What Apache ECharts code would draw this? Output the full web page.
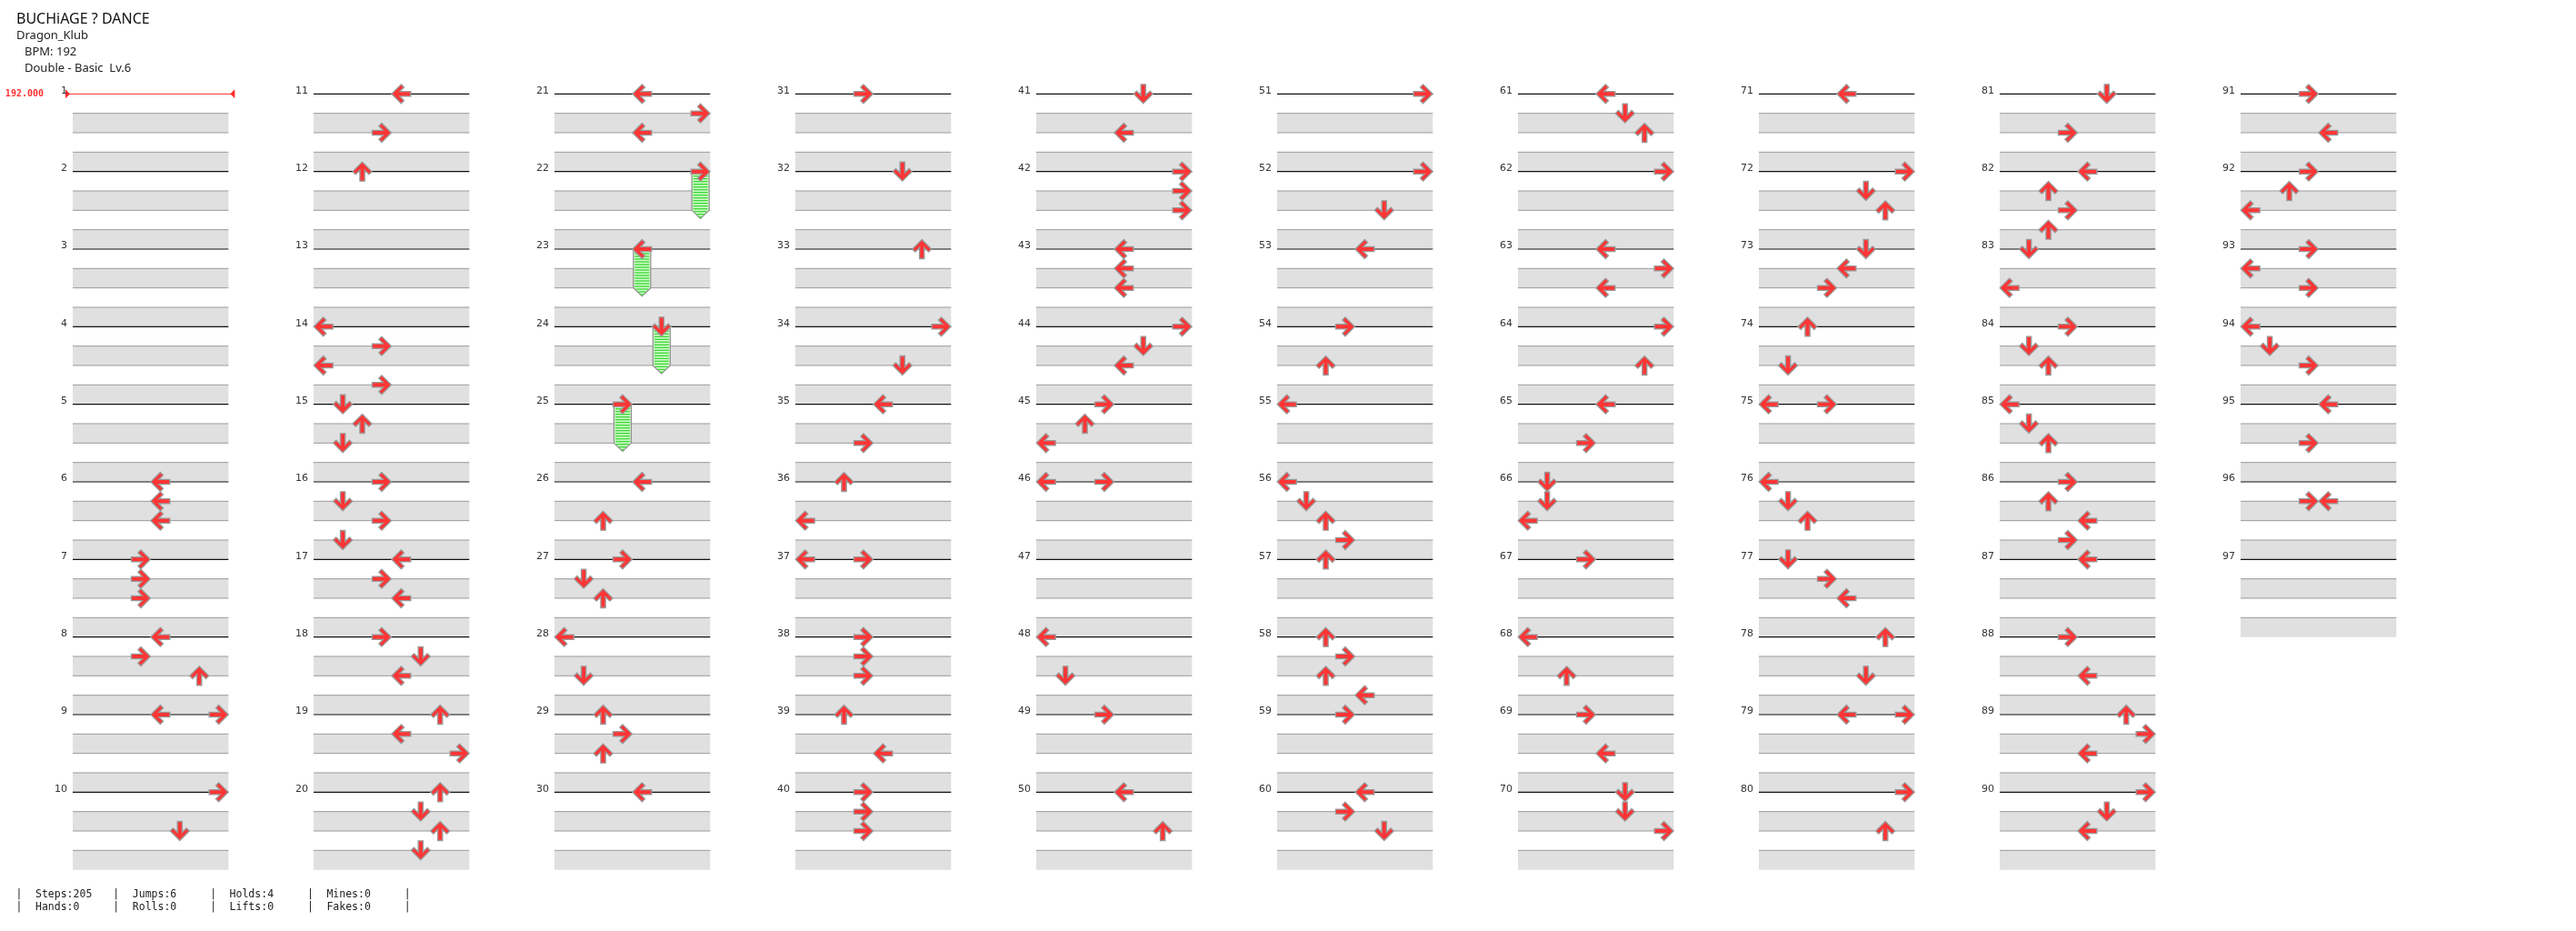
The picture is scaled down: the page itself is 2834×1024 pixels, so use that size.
<!DOCTYPE html>
<html>
<head>
<meta charset="utf-8">
<script src="https://cdn.jsdelivr.net/npm/echarts@6/dist/echarts.min.js"></script>
<style>
  html, body { margin: 0; padding: 0; background: #fff; }
  #chart { width: 2834px; height: 1024px; }
</style>
</head>
<body>
<div id="chart"></div>
<script>
// song header
const songInfo = ['BUCHiAGE ? DANCE', 'Dragon_Klub', 'BPM: 192', 'Double - Basic  Lv.6'];
const measureTotal = 97;
const measuresPerColumn = 10;
const bpmChanges = [[1, '192.000']];

// lanes of a double pad: P1 L D U R, P2 L D U R
const laneDirs = ['L', 'D', 'U', 'R', 'L', 'D', 'U', 'R'];

// taps: [measure, beat, lane]
const taps = [
    [6, 0, 4], [6, 1, 4], [6, 2, 4],
    [7, 0, 3], [7, 1, 3], [7, 2, 3],
    [8, 0, 4], [8, 1, 3], [8, 2, 6],
    [9, 0, 4], [9, 0, 7],
    [10, 0, 7], [10, 2, 5],
    [11, 0, 4], [11, 2, 3],
    [12, 0, 2],
    [14, 0, 0], [14, 1, 3], [14, 2, 0], [14, 3, 3],
    [15, 0, 1], [15, 1, 2], [15, 2, 1],
    [16, 0, 3], [16, 1, 1], [16, 2, 3], [16, 3, 1],
    [17, 0, 4], [17, 1, 3], [17, 2, 4],
    [18, 0, 3], [18, 1, 5], [18, 2, 4],
    [19, 0, 6], [19, 1, 4], [19, 2, 7],
    [20, 0, 6], [20, 1, 5], [20, 2, 6], [20, 3, 5],
    [21, 0, 4], [21, 1, 7], [21, 2, 4],
    [26, 0, 4], [26, 2, 2],
    [27, 0, 3], [27, 1, 1], [27, 2, 2],
    [28, 0, 0], [28, 2, 1],
    [29, 0, 2], [29, 1, 3], [29, 2, 2],
    [30, 0, 4],
    [31, 0, 3],
    [32, 0, 5],
    [33, 0, 6],
    [34, 0, 7], [34, 2, 5],
    [35, 0, 4], [35, 2, 3],
    [36, 0, 2], [36, 2, 0],
    [37, 0, 0], [37, 0, 3],
    [38, 0, 3], [38, 1, 3], [38, 2, 3],
    [39, 0, 2], [39, 2, 4],
    [40, 0, 3], [40, 1, 3], [40, 2, 3],
    [41, 0, 5], [41, 2, 4],
    [42, 0, 7], [42, 1, 7], [42, 2, 7],
    [43, 0, 4], [43, 1, 4], [43, 2, 4],
    [44, 0, 7], [44, 1, 5], [44, 2, 4],
    [45, 0, 3], [45, 1, 2], [45, 2, 0],
    [46, 0, 0], [46, 0, 3],
    [48, 0, 0], [48, 2, 1],
    [49, 0, 3],
    [50, 0, 4], [50, 2, 6],
    [51, 0, 7],
    [52, 0, 7], [52, 2, 5],
    [53, 0, 4],
    [54, 0, 3], [54, 2, 2],
    [55, 0, 0],
    [56, 0, 0], [56, 1, 1], [56, 2, 2], [56, 3, 3],
    [57, 0, 2],
    [58, 0, 2], [58, 1, 3], [58, 2, 2], [58, 3, 4],
    [59, 0, 3],
    [60, 0, 4], [60, 1, 3], [60, 2, 5],
    [61, 0, 4], [61, 1, 5], [61, 2, 6],
    [62, 0, 7],
    [63, 0, 4], [63, 1, 7], [63, 2, 4],
    [64, 0, 7], [64, 2, 6],
    [65, 0, 4], [65, 2, 3],
    [66, 0, 1], [66, 1, 1], [66, 2, 0],
    [67, 0, 3],
    [68, 0, 0], [68, 2, 2],
    [69, 0, 3], [69, 2, 4],
    [70, 0, 5], [70, 1, 5], [70, 2, 7],
    [71, 0, 4],
    [72, 0, 7], [72, 1, 5], [72, 2, 6],
    [73, 0, 5], [73, 1, 4], [73, 2, 3],
    [74, 0, 2], [74, 2, 1],
    [75, 0, 0], [75, 0, 3],
    [76, 0, 0], [76, 1, 1], [76, 2, 2],
    [77, 0, 1], [77, 1, 3], [77, 2, 4],
    [78, 0, 6], [78, 2, 5],
    [79, 0, 4], [79, 0, 7],
    [80, 0, 7], [80, 2, 6],
    [81, 0, 5], [81, 2, 3],
    [82, 0, 4], [82, 1, 2], [82, 2, 3], [82, 3, 2],
    [83, 0, 1], [83, 2, 0],
    [84, 0, 3], [84, 1, 1], [84, 2, 2],
    [85, 0, 0], [85, 1, 1], [85, 2, 2],
    [86, 0, 3], [86, 1, 2], [86, 2, 4], [86, 3, 3],
    [87, 0, 4],
    [88, 0, 3], [88, 2, 4],
    [89, 0, 6], [89, 1, 7], [89, 2, 4],
    [90, 0, 7], [90, 1, 5], [90, 2, 4],
    [91, 0, 3], [91, 2, 4],
    [92, 0, 3], [92, 1, 2], [92, 2, 0],
    [93, 0, 3], [93, 1, 0], [93, 2, 3],
    [94, 0, 0], [94, 1, 1], [94, 2, 3],
    [95, 0, 4], [95, 2, 3],
    [96, 1, 3], [96, 1, 4]
];

// holds: [measure, beat, lane, length in beats]
const holds = [
    [22, 0, 7, 2],
    [23, 0, 4, 2],
    [24, 0, 5, 2],
    [25, 0, 3, 2]
];

const statsRow1 = ['Steps:205', 'Jumps:6', 'Holds:4', 'Mines:0'];
const statsRow2 = ['Hands:0', 'Rolls:0', 'Lifts:0', 'Fakes:0'];

// arrow outlines, 20x20 box
const arrowPaths = {
    U: 'path://M10,0 L20,10 L17,13 L12.5,8.5 L12.5,20 L7.5,20 L7.5,8.5 L3,13 L0,10 Z',
    D: 'path://M10,20 L20,10 L17,7 L12.5,11.5 L12.5,0 L7.5,0 L7.5,11.5 L3,7 L0,10 Z',
    L: 'path://M0,10 L10,0 L13,3 L8.5,7.5 L20,7.5 L20,12.5 L8.5,12.5 L13,17 L10,20 Z',
    R: 'path://M20,10 L10,0 L7,3 L11.5,7.5 L0,7.5 L0,12.5 L11.5,12.5 L7,17 L10,20 Z'
};

const chart = echarts.init(document.getElementById('chart'));

const colCount = Math.ceil(measureTotal / measuresPerColumn);
const colBeats = measuresPerColumn * 4;

function colOf(measure) { return Math.floor((measure - 1) / measuresPerColumn); }
function beatInCol(measure, beat) { return ((measure - 1) % measuresPerColumn) * 4 + beat; }

// 小节背景：灰色条带、小节线、小节号
function renderBoard(params, api) {
    const k = api.value(0);
    const m = api.value(1);
    const b0 = k * 4;
    const pa = api.coord([0, b0]);
    const pb = api.coord([8, b0 + 4]);
    const x0 = pa[0];
    const w = pb[0] - pa[0];
    const yb = i => api.coord([0, b0 + i])[1];
    const children = [];
    [1, 3].forEach(i => {
        children.push({
            type: 'rect',
            shape: { x: x0, y: yb(i), width: w, height: yb(i + 1) - yb(i) },
            style: { fill: '#e0e0e0' }
        });
    });
    [1, 2, 3].forEach(i => {
        children.push({
            type: 'line',
            shape: { x1: x0, y1: yb(i), x2: x0 + w, y2: yb(i) },
            style: { stroke: '#9a9a9a', lineWidth: 1 }
        });
    });
    const y = yb(0);
    const bpm = bpmChanges.find(b => b[0] === m);
    if (bpm) {
        children.push({
            type: 'line',
            shape: { x1: x0 - 8, y1: y, x2: x0 + w + 7, y2: y },
            style: { stroke: '#ff2a2a', lineWidth: 1 }
        });
        children.push({
            type: 'polygon',
            shape: { points: [[x0 - 8, y - 5], [x0 - 8, y + 5], [x0 - 3, y]] },
            style: { fill: '#ff2a2a' }
        });
        children.push({
            type: 'polygon',
            shape: { points: [[x0 + w + 7, y - 5], [x0 + w + 7, y + 5], [x0 + w + 2, y]] },
            style: { fill: '#ff2a2a' }
        });
        children.push({
            type: 'text',
            style: {
                text: bpm[1], x: x0 - 32, y: y,
                textAlign: 'right', textVerticalAlign: 'middle',
                font: 'bold 10px "DejaVu Sans Mono"', fill: '#ff3030'
            }
        });
    } else {
        children.push({
            type: 'line',
            shape: { x1: x0, y1: y, x2: x0 + w, y2: y },
            style: { stroke: '#111', lineWidth: 1.2 }
        });
    }
    children.push({
        type: 'text',
        style: {
            text: String(m), x: x0 - 6, y: y + 2,
            textAlign: 'right', textVerticalAlign: 'bottom',
            font: '11px "DejaVu Sans"', fill: '#333'
        }
    });
    return { type: 'group', children: children };
}

// 长按音符
function renderHold(params, api) {
    const lane = api.value(0);
    const top = api.coord([lane + 0.5, api.value(1)]);
    const bot = api.coord([lane + 0.5, api.value(2)]);
    const cx = top[0];
    const hw = 9.5;
    const tip = 9;
    const children = [{
        type: 'polygon',
        shape: { points: [[cx - hw, top[1]], [cx + hw, top[1]], [cx + hw, bot[1]], [cx, bot[1] + tip], [cx - hw, bot[1]]] },
        style: { fill: '#d2fbcc', stroke: '#8c8c8c', lineWidth: 1.2 }
    }];
    for (let yy = top[1] + 2; yy < bot[1] + tip - 1; yy += 3) {
        let half = hw - 1.5;
        if (yy > bot[1]) half = (hw - 1.5) * (1 - (yy - bot[1]) / tip);
        if (half < 1) break;
        children.push({
            type: 'line',
            shape: { x1: cx - half, y1: yy, x2: cx + half, y2: yy },
            style: { stroke: '#3fd83a', lineWidth: 1.4 }
        });
    }
    return { type: 'group', children: children };
}

const grids = [], xAxes = [], yAxes = [], series = [];
for (let c = 0; c < colCount; c++) {
    grids.push({ left: 80 + c * 265, top: 103.33, width: 171.33, height: 853.33 });
    xAxes.push({ type: 'value', gridIndex: c, min: 0, max: 8, show: false });
    yAxes.push({ type: 'value', gridIndex: c, min: 0, max: colBeats, inverse: true, show: false });

    const boardData = [];
    for (let k = 0; k < measuresPerColumn; k++) {
        const m = c * measuresPerColumn + k + 1;
        if (m <= measureTotal) boardData.push([k, m]);
    }
    series.push({
        type: 'custom', xAxisIndex: c, yAxisIndex: c, z: 1,
        renderItem: renderBoard, data: boardData, silent: true
    });

    const holdData = holds.filter(h => colOf(h[0]) === c)
        .map(h => [h[2], beatInCol(h[0], h[1]), beatInCol(h[0], h[1]) + h[3]]);
    series.push({
        type: 'custom', xAxisIndex: c, yAxisIndex: c, z: 2,
        renderItem: renderHold, data: holdData, silent: true
    });

    const arrowData = taps.concat(holds.map(h => [h[0], h[1], h[2]]))
        .filter(t => colOf(t[0]) === c)
        .map(t => ({
            value: [t[2] + 0.5, beatInCol(t[0], t[1])],
            symbol: arrowPaths[laneDirs[t[2]]]
        }));
    series.push({
        type: 'scatter', xAxisIndex: c, yAxisIndex: c, z: 3,
        symbolSize: 21,
        itemStyle: { color: '#ff3535', borderColor: '#9a9a9a', borderWidth: 1.3, opacity: 1 },
        data: arrowData, silent: true, animation: false
    });
}

// 标题与统计文字
const graphics = [
    { type: 'text', x: 18, y: 21, style: { text: songInfo[0], font: '16px "Noto Sans"', fill: '#111', textVerticalAlign: 'middle' } },
    { type: 'text', x: 18, y: 39, style: { text: songInfo[1], font: '13px "Noto Sans"', fill: '#222', textVerticalAlign: 'middle' } },
    { type: 'text', x: 27, y: 57, style: { text: songInfo[2], font: '13px "Noto Sans"', fill: '#222', textVerticalAlign: 'middle' } },
    { type: 'text', x: 27, y: 75, style: { text: songInfo[3], font: '13px "Noto Sans"', fill: '#222', textVerticalAlign: 'middle' } }
];
const statFont = '11.5px "DejaVu Sans Mono"';
for (let i = 0; i <= statsRow1.length; i++) {
    const bx = 21 + i * 106.8;
    graphics.push({ type: 'text', x: bx, y: 984, style: { text: '|', font: statFont, fill: '#222', textAlign: 'center', textVerticalAlign: 'middle' } });
    graphics.push({ type: 'text', x: bx, y: 998, style: { text: '|', font: statFont, fill: '#222', textAlign: 'center', textVerticalAlign: 'middle' } });
    if (i < statsRow1.length) {
        graphics.push({ type: 'text', x: bx + 18, y: 984, style: { text: statsRow1[i], font: statFont, fill: '#222', textVerticalAlign: 'middle' } });
        graphics.push({ type: 'text', x: bx + 18, y: 998, style: { text: statsRow2[i], font: statFont, fill: '#222', textVerticalAlign: 'middle' } });
    }
}

chart.setOption({
    backgroundColor: '#fff',
    animation: false,
    grid: grids,
    xAxis: xAxes,
    yAxis: yAxes,
    graphic: graphics,
    series: series
});
</script>
</body>
</html>
